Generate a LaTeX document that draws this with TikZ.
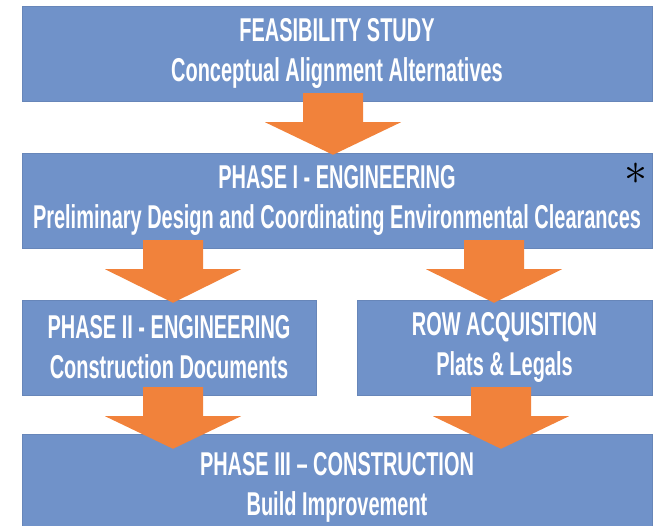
\documentclass[tikz,border=0pt]{standalone}
\usepackage{fontspec}
\usepackage{tikz}
\usetikzlibrary{calc}

\newfontfamily\boxfont[FakeStretch=0.605,Ligatures=TeX]{Liberation Sans}
\definecolor{boxblue}{RGB}{112,146,201}
\definecolor{arroworange}{RGB}{241,130,59}

% block arrow: x, from node, to node, tip below top of target
\newcommand{\blockarrow}[4]{%
  \fill[arroworange] ($(#1,0 |- #2.south)+(-30,-8)$) -- ++(60,0) -- ++(0,29) -- ++(38,0)
    -- ($(#1,0 |- #3.north)+(0,#4)$) -- ($(#1,0 |- #2.south)+(-68,21)$) -- ++(38,0) -- cycle;}

\begin{document}
\begin{tikzpicture}[x=1pt,y=-1pt]

        \useasboundingbox (0,0) rectangle (659,526);
        \clip (0,0) rectangle (659,526);

        \begin{scope}[every node/.style={rectangle, fill=boxblue, draw=boxblue!92!black, line width=0.4pt,
            text=white, align=center, inner sep=0pt, minimum height=95pt,
            font=\boxfont\bfseries\fontsize{33}{40}\selectfont}]
          \node[minimum width=630pt] (1) at (337,53.5)  {FEASIBILITY STUDY\\Conceptual Alignment Alternatives};
          \node[minimum width=630pt] (2) at (337,200.5) {PHASE I - ENGINEERING\\Preliminary Design and Coordinating Environmental Clearances};
          \node[minimum width=294pt] (3) at (169,347.5) {PHASE II - ENGINEERING\\Construction Documents};
          \node[minimum width=295pt] (4) at (504.5,347.5) {ROW ACQUISITION\\Plats \& Legals};
          \node[minimum width=630pt, minimum height=106pt] (5) at (337,487) {PHASE III \textendash{} CONSTRUCTION\\Build Improvement};
        \end{scope}

        \blockarrow{333}{1}{2}{2}
        \blockarrow{173}{2}{3}{3}
        \blockarrow{494}{2}{4}{3}
        \blockarrow{173}{3}{5}{15}
        \blockarrow{501}{4}{5}{15}

        \node[inner sep=0pt] (star) at (636,174) {\scalebox{4.6}{$\ast$}};

      \end{tikzpicture}
\end{document}
